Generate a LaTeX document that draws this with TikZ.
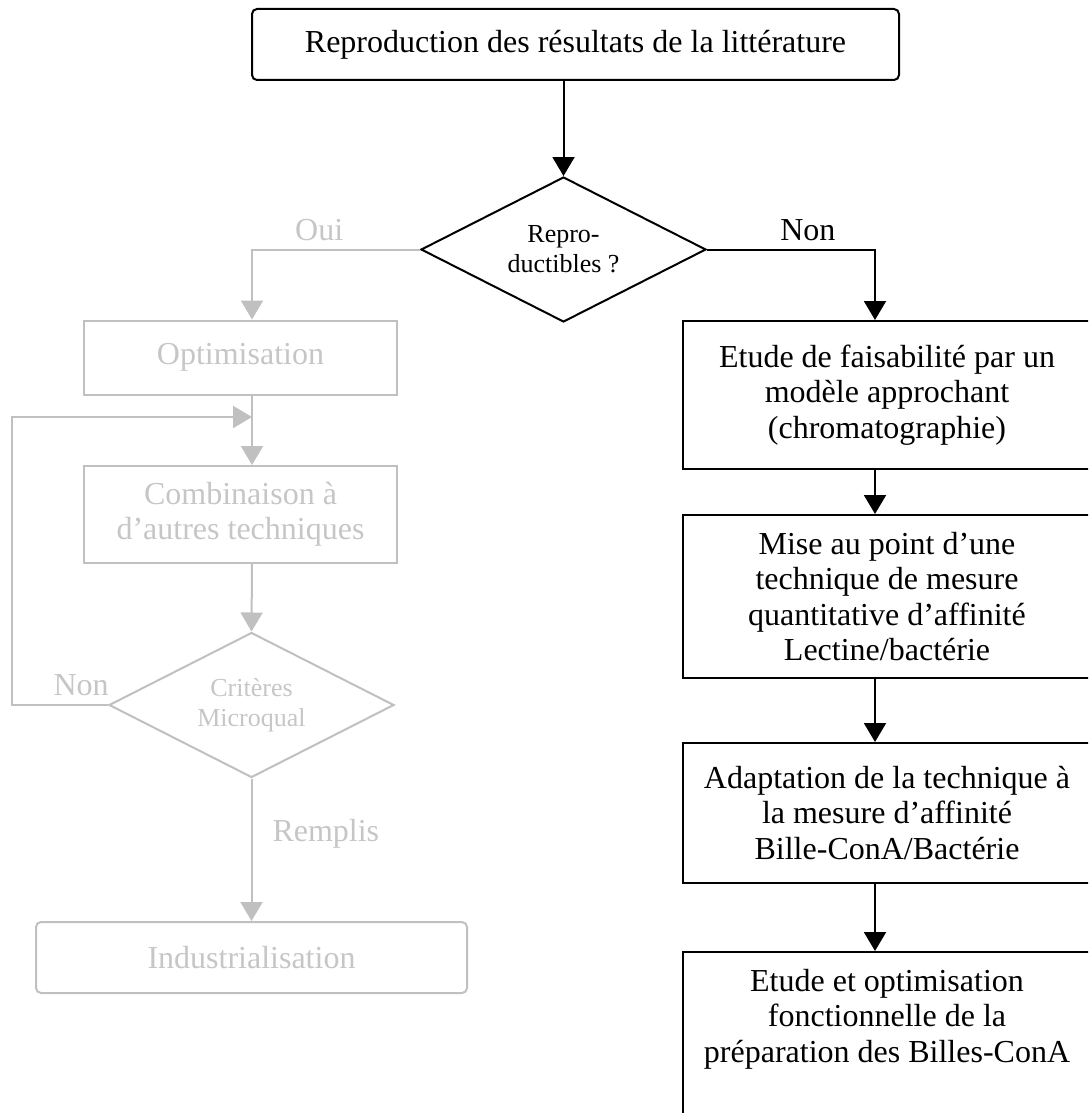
\documentclass[tikz,border=0pt]{standalone}
\usepackage{fontspec}
\setmainfont{Liberation Serif}
\usetikzlibrary{arrows.meta}
\usetikzlibrary{shapes.geometric}
\definecolor{c1}{RGB}{192,192,192}
\definecolor{c2}{RGB}{198,198,198}
\tikzset{
  box/.style={rectangle, draw, line width=1pt, align=center, inner sep=0pt},
  boxg/.style={box, draw=c1, text=c2},
  test/.style={diamond, draw, line width=1pt, aspect=2, inner sep=0pt, minimum width=142.5pt, minimum height=72.5pt, align=center, font=\fontsize{13}{15}\selectfont},
  testg/.style={test, draw=c1, text=c2},
  % lbl/.style={draw=none},
  lbl/.style={inner sep=4pt},
  edgek/.style={-{Triangle[length=9.5pt, width=11pt]}, line width=1pt},
  edgeg/.style={edgek, c1},
}

\begin{document}
\begin{tikzpicture}[x=0.5pt, y=-0.5pt, font=\fontsize{16}{17.75}\selectfont]
	\path[use as bounding box, clip] (0,0) rectangle (1088,1113);

	\coordinate (colL) at (252,0);
	\coordinate (colR) at (875,0);
	\coordinate (loopx) at (12,0);
	\coordinate (join) at (252,417);

	\node[box, rounded corners=2.5pt, minimum width=323.5pt, minimum height=35.5pt] (repro) at (575.5,44.5) {Reproduction des résultats de la littérature};
	\node[test] (qrep) at (563.5,249.5) {Repro-\\ductibles ?};

	% branche Non
	\node[box, minimum width=204pt, minimum height=74pt] (ech1) at (887,395) {Etude de faisabilité par un\\modèle approchant\\(chromatographie)};
	\node[box, minimum width=204pt, minimum height=81.5pt] (ech2) at (887,596.5) {Mise au point d’une\\technique de mesure\\quantitative d’affinité\\Lectine/bactérie};
	\node[box, minimum width=204pt, minimum height=70pt] (ech3) at (887,813) {Adaptation de la technique à\\la mesure d’affinité\\Bille-ConA/Bactérie};
	\node[box, minimum width=204pt, minimum height=99pt] (ech4) at (887,1051) {Etude et optimisation\\fonctionnelle de la\\préparation des Billes-ConA\\~\\~};

	% branche Oui
	\node[boxg, minimum width=156.5pt, minimum height=37pt] (optim) at (240.5,357.5) {Optimisation};
	\node[boxg, minimum width=156.5pt, minimum height=48.5pt] (comb) at (240.5,514.5) {Combinaison à\\d’autres techniques};
	\node[testg] (crit) at (251.5,705) {Critères\\Microqual};
	\node[boxg, rounded corners=2.5pt, minimum width=215.5pt, minimum height=35.5pt] (indus) at (251.5,957.5) {Industrialisation};

	\draw[edgek] (repro.south -| qrep.north) -- (qrep.north);
	\draw[edgek] (qrep.east) -- node[lbl, above, pos=0.6] {Non} (qrep.east -| colR) -- (ech1.north -| colR);
	\draw[edgek] (ech1.south -| colR) -- (ech2.north -| colR);
	\draw[edgek] (ech2.south -| colR) -- (ech3.north -| colR);
	\draw[edgek] (ech3.south -| colR) -- (ech4.north -| colR);

	\draw[edgeg] (qrep.west) -- node[lbl, above, pos=0.6, text=c2] {Oui} (qrep.west -| colL) -- (optim.north -| colL);
	\draw[edgeg] (optim.south -| colL) -- (comb.north -| colL);
	\draw[edgeg] (comb.south -| colL) -- (crit.north);
	\draw[edgeg] (crit.west) -- node[lbl, above, pos=0.28, text=c2] {Non} (crit.west -| loopx) |- (join);
	\draw[edgeg] (crit.south) -- node[lbl, anchor=west, xshift=6pt, pos=0.39, text=c2] {Remplis} (indus.north -| crit.south);

\end{tikzpicture}
\end{document}
